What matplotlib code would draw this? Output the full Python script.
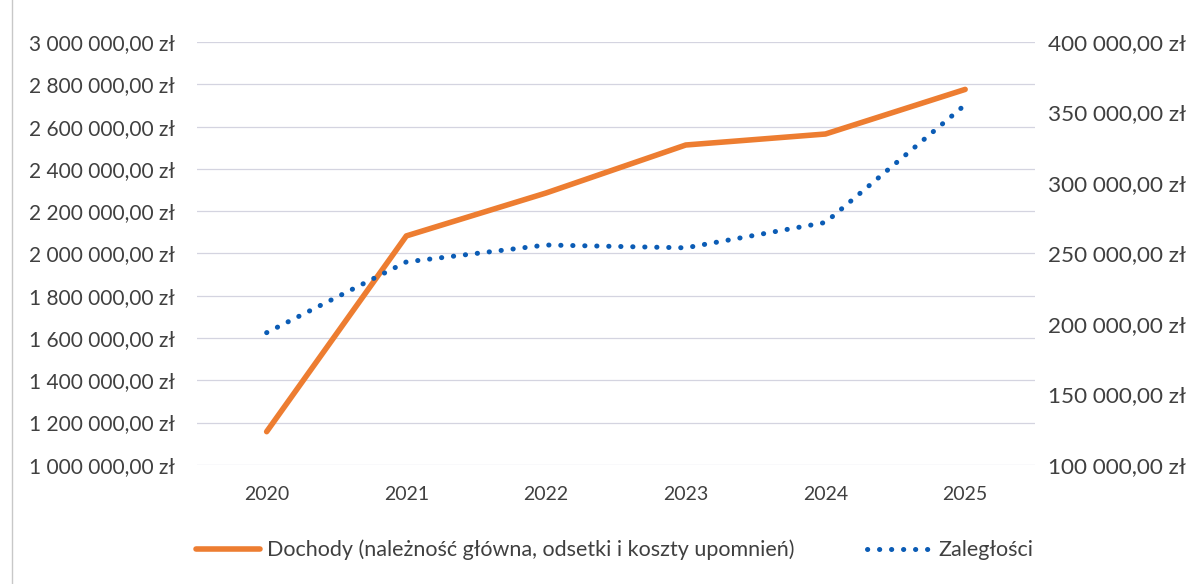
import matplotlib.pyplot as plt
import matplotlib.ticker as mticker
from matplotlib.patches import Rectangle

plt.rcParams['font.family'] = ['Lato', 'DejaVu Sans']

lata = ['2020', '2021', '2022', '2023', '2024', '2025']
dochody = [1157000, 2083000, 2286000, 2513000, 2565000, 2776000]
zaleglosci = [193800, 244000, 256000, 254000, 272000, 355500]

etykieta_dochody = 'Dochody (należność główna, odsetki i koszty upomnień)'
etykieta_zaleglosci = 'Zaległości'

tekst = '#404040'


def zl(v, pos=None):
    s = f'{v:,.2f}'.replace(',', ' ').replace('.', ',')
    return s + ' zł'


fig = plt.figure(figsize=(12, 5.84), dpi=100)
ax = fig.add_axes([0.164, 0.204, 0.6985, 0.724])
ax2 = ax.twinx()

x = range(len(lata))
l1, = ax.plot(x, dochody, color='#ED7D31', lw=4, solid_capstyle='round',
              label=etykieta_dochody, zorder=3)
l2, = ax2.plot(x, zaleglosci, color='#0B5CB5', lw=3.6,
               linestyle=(0, (0.05, 2.35)), dash_capstyle='round',
               label=etykieta_zaleglosci, zorder=3)

ax.set_xlim(-0.5, len(lata) - 0.5)
ax.set_xticks(list(x))
ax.set_xticklabels(lata)
ax.set_ylim(1000000, 3000000)
ax.yaxis.set_major_locator(mticker.MultipleLocator(200000))
ax.yaxis.set_major_formatter(mticker.FuncFormatter(zl))
ax2.set_ylim(100000, 400000)
ax2.yaxis.set_major_locator(mticker.MultipleLocator(50000))
ax2.yaxis.set_major_formatter(mticker.FuncFormatter(zl))

ax.grid(axis='y', color='#d4d4e0', lw=0.9)
ax.set_axisbelow(True)
for a in (ax, ax2):
    for s in a.spines.values():
        s.set_visible(False)
    a.tick_params(length=0, colors=tekst)
ax.tick_params(axis='y', pad=16, labelsize=15)
ax.tick_params(axis='x', pad=15, labelsize=14)
ax2.tick_params(axis='y', pad=9.5, labelsize=16.2)

fig.legend(handles=[l1, l2], loc='center', bbox_to_anchor=(0.512, 0.058),
           ncol=2, frameon=False, fontsize=15.5, labelcolor=tekst,
           handlelength=3.0, handletextpad=0.3, columnspacing=3.4)

fig.patches.append(Rectangle((0.01, -0.01), 1.2, 1.2, transform=fig.transFigure,
                             fill=False, edgecolor='#c8c8c8', lw=1))

fig.savefig('out.png', dpi=100)
